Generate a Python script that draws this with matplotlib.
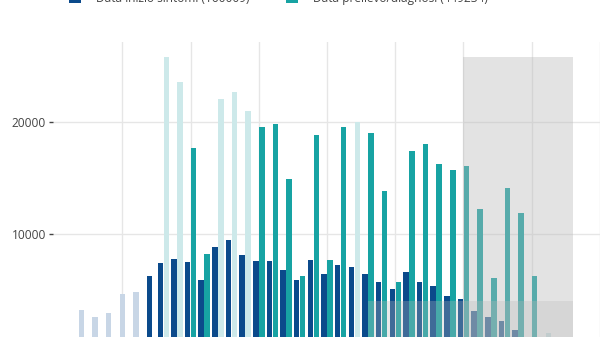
import numpy as np
import matplotlib
matplotlib.use("Agg")
import matplotlib.pyplot as plt
from matplotlib.patches import Rectangle

plt.rcParams['font.family'] = ['Open Sans', 'DejaVu Sans']

# ---- data ----
days = list(range(35))
onset = [3210, 2620, 2920, 4670, 4820, 6280, 7410, 7740, 7470, 5890,
         8840, 9440, 8150, 7560, 7620, 6790, 5890, 7680, 6460, 7230,
         7050, 6460, 5710, 5060, 6610, 5680, 5330, 4490, 4200, 3150,
         2620, 2260, 1430, 600, 300]
diagnosis = [np.nan] * 6 + [25770, 23600, 17700, 8210, 22030, 22680, 20960,
                            19530, 19790, 14940, 6280, 18870, 7720, 19530,
                            19970, 19040, 13840, 5680, 17380, 18040, 16250,
                            15690, 16070, 12260, 6040, 14080, 11880, 6250, 1190]
onset_faded_days = [0, 1, 2, 3, 4]
diag_faded_days = [6, 7, 10, 11, 12, 20, 34]
legend_labels = ["Data inizio sintomi (160009)", "Data prelievo/diagnosi (449234)"]
yticks = [10000, 20000]
incomplete_start, incomplete_end = 28, 36
lower_band_start, lower_band_value = 21, 4050

# ---- styles ----
BLUE, BLUE_F = '#0b4a8b', '#c8d6e6'
TEAL, TEAL_F = '#17a3a3', '#cde9ea'
W, H = 600, 337

fig = plt.figure(figsize=(W / 100, H / 100), dpi=100)
ax = fig.add_axes([53 / W, (337 - 346) / H, (610 - 53) / W, (346 - 42) / H])

x = np.array(days, dtype=float)
onset = np.array(onset, dtype=float)
diagnosis = np.array(diagnosis, dtype=float)
has_diag = ~np.isnan(diagnosis)
bw, off = 0.40, 0.22

ob_x = np.where(has_diag, x - off, x)
ob_c = [BLUE_F if d in onset_faded_days else BLUE for d in days]
ax.bar(ob_x, onset, width=bw, color=ob_c, zorder=2, linewidth=0)

dx = x[has_diag] + off
dv = diagnosis[has_diag]
dc = [TEAL_F if d in diag_faded_days else TEAL for d in np.array(days)[has_diag]]
ax.bar(dx, dv, width=bw, color=dc, zorder=2, linewidth=0)

# shaded regions
ax.add_patch(Rectangle((incomplete_start, 0), incomplete_end - incomplete_start,
                       np.nanmax(diagnosis), facecolor='#b9b9b9', alpha=0.4,
                       edgecolor='none', zorder=3))
ax.add_patch(Rectangle((lower_band_start, 0), incomplete_end - lower_band_start,
                       lower_band_value, facecolor='#b9b9b9', alpha=0.3,
                       edgecolor='none', zorder=3))

ax.set_xlim((53 - 81.4) / 13.646, (610 - 81.4) / 13.646)
ax.set_ylim(0, (346 - 42) / 112 * 10000)
ax.set_xticks(np.arange(3, 40, 5))
ax.set_xticklabels([])
ax.set_yticks(yticks)
ax.set_yticklabels([str(v) for v in yticks])
ax.tick_params(axis='x', length=0)
ax.tick_params(axis='y', length=3, width=1, color='#444444', pad=2,
               labelsize=8.6, labelcolor='#444444')
ax.grid(True, color='#e6e6e6', linewidth=1, zorder=0)
ax.set_axisbelow(True)
for s in ax.spines.values():
    s.set_visible(False)

# legend (mostly cut off at the top, as in the reference)
for (sx, tx), lab, col in zip([(69, 96), (286, 313)], legend_labels, [BLUE, TEAL]):
    fig.add_artist(Rectangle((sx / W, (337 - 3) / H), 12 / W, 12 / H,
                             transform=fig.transFigure, facecolor=col,
                             edgecolor='none'))
    fig.text(tx / W, (337 - 2) / H, lab, fontsize=8.6, color='#444444',
             va='baseline', ha='left')

fig.savefig('out.png', dpi=100)
